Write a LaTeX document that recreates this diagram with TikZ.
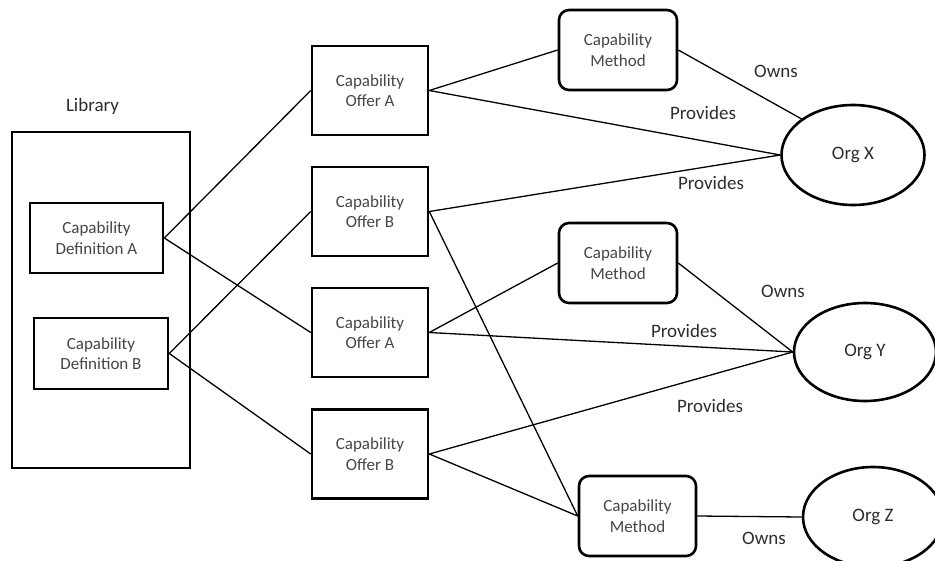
\documentclass[tikz,border=0pt]{standalone}
\usepackage{fontspec}
\setmainfont{Carlito}
\usetikzlibrary{shapes.geometric}
\definecolor{boxtext}{RGB}{70,70,70}
\definecolor{labtext}{RGB}{45,45,45}
\tikzset{
  base/.style={draw=black, line width=2.6pt, align=center, text=boxtext,
    font=\fontsize{17}{20.5}\selectfont, inner sep=0pt},
  sqbox/.style={base, rectangle},
  rdbox/.style={base, rectangle, rounded corners=10pt},
  org/.style={base, ellipse, text=labtext, font=\fontsize{19}{22}\selectfont},
  lab/.style={text=labtext, font=\fontsize{19}{22}\selectfont, inner sep=0pt},
  conn/.style={draw=black, line width=1.3pt},
}
\begin{document}
\begin{tikzpicture}[x=1pt, y=-1pt]
\clip (0,0) rectangle (935,560);
\fill[white] (0,0) rectangle (935,560);
% library
\node[sqbox, minimum width=178pt, minimum height=336pt] (lib) at (101,300) {};
\node[lab] (libl) at (92.5,106) {Library};
\node[sqbox, minimum width=133pt, minimum height=70pt] (da) at (96.5,238) {Capability\\Definition A};
\node[sqbox, minimum width=134pt, minimum height=71pt] (db) at (101,353.5) {Capability\\Definition B};
% offers
\node[sqbox, minimum width=116pt, minimum height=89pt] (oa1) at (370,90.5) {Capability\\Offer A};
\node[sqbox, minimum width=116pt, minimum height=89pt] (ob1) at (370,211.5) {Capability\\Offer B};
\node[sqbox, minimum width=116pt, minimum height=89pt] (oa2) at (370,332.5) {Capability\\Offer A};
\node[sqbox, minimum width=116pt, minimum height=89pt] (ob2) at (370,454) {Capability\\Offer B};
% methods
\node[rdbox, minimum width=118pt, minimum height=80pt] (m1) at (618,50) {Capability\\Method};
\node[rdbox, minimum width=118pt, minimum height=80pt] (m2) at (618,263) {Capability\\Method};
\node[rdbox, minimum width=117pt, minimum height=80pt] (m3) at (637.5,516) {Capability\\Method};
% orgs
\node[org, minimum width=143pt, minimum height=100pt] (ox) at (853,155) {Org X};
\node[org, minimum width=142pt, minimum height=98pt] (oy) at (865,352) {Org Y};
\node[org, minimum width=140pt, minimum height=100pt] (oz) at (873,517) {Org Z};
% connectors
\draw[conn] (da.east) -- (oa1.west);
\draw[conn] (da.east) -- (oa2.west);
\draw[conn] (db.east) -- (ob1.west);
\draw[conn] (db.east) -- (ob2.west);
\draw[conn] (oa1.east) -- (m1.west);
\draw[conn] (oa1.east) -- (ox.west);
\draw[conn] (m1.east) -- (ox.145);
\draw[conn] (ob1.east) -- (ox.west);
\draw[conn] (ob1.east) -- (m3.west);
\draw[conn] (oa2.east) -- (m2.west);
\draw[conn] (oa2.east) -- (oy.west);
\draw[conn] (m2.east) -- (oy.west);
\draw[conn] (ob2.east) -- (oy.west);
\draw[conn] (ob2.east) -- (m3.west);
\draw[conn] (m3.east) -- (oz.west);
% labels
\node[lab] (l1) at (776,71) {Owns};
\node[lab] (l2) at (703,113) {Provides};
\node[lab] (l3) at (711,183) {Provides};
\node[lab] (l4) at (783,291) {Owns};
\node[lab] (l5) at (684,331) {Provides};
\node[lab] (l6) at (710,406) {Provides};
\node[lab] (l7) at (764,538) {Owns};
\end{tikzpicture}
\end{document}
